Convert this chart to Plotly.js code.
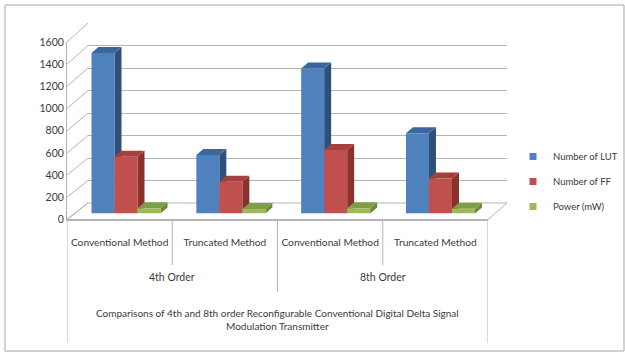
<!DOCTYPE html>
<html><head><meta charset="utf-8">
<script src="https://cdn.plot.ly/plotly-3.0.1.min.js"></script>
<style>html,body{margin:0;padding:0;background:#fff;overflow:hidden;}#chart{width:625px;height:353px;}</style>
</head><body><div id="chart"></div>
<script>
// ---------- data ----------
const methods = ["Conventional Method", "Truncated Method", "Conventional Method", "Truncated Method"];
const orders = ["4th Order", "8th Order"];
const seriesNames = ["Number of LUT", "Number of FF", "Power (mW)"];
const lutValues = [1440, 525, 1300, 720];
const ffValues = [510, 285, 570, 315];
const powerValues = [46, 40, 48, 42];
const yTickValues = [0, 200, 400, 600, 800, 1000, 1200, 1400, 1600];
const axisTitleLines = ["Comparisons of 4th and 8th order Reconfigurable Conventional Digital Delta Signal", "Modulation Transmitter"];

// ---------- geometry / style ----------
const W = 625, H = 353;
const px = X => X / W;
const py = Y => 1 - Y / H;
const FRONT = {left: 67, right: 488, y0: 219.5, yTop: 42};
const BACK = {left: 88, right: 507, y0: 203, yTop: 23};
const BAR = {left: 73.6, right: 492.9, y0: 213.5, yTop: 35.1};
const YMAX = 1600;
const DEPTH = {dx: 7, dy: 6};
const BAR_W = 23 / 104.8;
const frontColors = ["#4F81BD", "#C0504D", "#9BBB59"];
const sideColors = ["#2F5079", "#8A302D", "#6C8A3A"];
const topColors = ["#3B679E", "#A6403D", "#7D9E47"];
const gridColor = "#B4B4B4";
const textColor = "#3A3A3A";
const FONT = "Lato, 'Liberation Sans', Arial, sans-serif";

const series = [lutValues, ffValues, powerValues];
const catIdx = methods.map((_, i) => i);

const traces = [];
series.forEach((vals, k) => {
  traces.push({
    type: "bar", x: catIdx, y: vals, xaxis: "x3", yaxis: "y3",
    width: BAR_W, offset: -1.5 * BAR_W + k * BAR_W,
    marker: {color: frontColors[k], line: {width: 0}},
    name: seriesNames[k], showlegend: false, hoverinfo: "skip"
  });
});
// legend entries (small square keys)
seriesNames.forEach((n, k) => {
  traces.push({
    type: "scatter", mode: "markers", x: [null], y: [null],
    xaxis: k === 0 ? "x" : "x2", yaxis: k === 0 ? "y" : "y2",
    marker: {symbol: "square", size: 7, color: frontColors[k]},
    name: n, legendgroup: "g" + k, showlegend: true
  });
});

const shapes = [];
// outer frame
shapes.push({type: "rect", xref: "paper", yref: "paper", x0: px(5), x1: px(624), y0: py(351), y1: py(5),
  line: {color: "#A6A6A6", width: 1}, layer: "below"});
// floor
shapes.push({type: "path", xref: "paper", yref: "paper", layer: "below",
  path: `M${px(FRONT.left)},${py(FRONT.y0)} L${px(FRONT.right)},${py(FRONT.y0)} L${px(BACK.right)},${py(BACK.y0)} L${px(BACK.left)},${py(BACK.y0)} Z`,
  line: {color: gridColor, width: 1}});
// side wall diagonals
yTickValues.forEach(v => {
  const yf = FRONT.y0 - v * (FRONT.y0 - FRONT.yTop) / YMAX;
  const yb = BACK.y0 - v * (BACK.y0 - BACK.yTop) / YMAX;
  shapes.push({type: "line", xref: "paper", yref: "paper", layer: "below",
    x0: px(FRONT.left), x1: px(BACK.left), y0: py(yf), y1: py(yb),
    line: {color: gridColor, width: 1}});
});
// 3D faces of bars
const dxD = DEPTH.dx * 4 / (BAR.right - BAR.left);
const dyD = DEPTH.dy * YMAX / (BAR.y0 - BAR.yTop);
series.forEach((vals, k) => {
  vals.forEach((v, i) => {
    const xl = i - 1.5 * BAR_W + k * BAR_W;
    const xr = xl + BAR_W;
    shapes.push({type: "path", xref: "x3", yref: "y3", layer: "below",
      path: `M${xr},${v} L${xr + dxD},${v + dyD} L${xr + dxD},${dyD} L${xr},0 Z`,
      fillcolor: sideColors[k], line: {width: 0}});
    shapes.push({type: "path", xref: "x3", yref: "y3", layer: "below",
      path: `M${xl},${v} L${xr},${v} L${xr + dxD},${v + dyD} L${xl + dxD},${v + dyD} Z`,
      fillcolor: topColors[k], line: {width: 0}});
  });
});
// category table separators
const sep = (x, yEnd) => ({type: "line", xref: "x2", yref: "paper", x0: x, x1: x,
  y0: py(FRONT.y0), y1: py(yEnd), line: {color: gridColor, width: 1}});
shapes.push(sep(-0.5, 343), sep(3.5, 343), sep(0.5, 265), sep(2.5, 265), sep(1.5, 292));

const annotations = [];
orders.forEach((o, j) => {
  annotations.push({xref: "x2", yref: "paper", x: 0.5 + 2 * j, y: py(277), text: o,
    showarrow: false, xanchor: "center", yanchor: "middle", font: {family: FONT, size: 10.5, color: textColor}});
});
annotations.push({xref: "x2", yref: "paper", x: 1.5, y: py(319.5), text: axisTitleLines.join("<br>"),
  showarrow: false, xanchor: "center", yanchor: "middle", font: {family: FONT, size: 10, color: textColor}});

const layout = {
  width: W, height: H, margin: {l: 0, r: 0, t: 0, b: 0, autoexpand: false},
  paper_bgcolor: "#fff", plot_bgcolor: "rgba(0,0,0,0)",
  font: {family: FONT, size: 10.5, color: textColor},
  showlegend: true,
  legend: {x: px(513), y: py(142), xanchor: "left", yanchor: "top", bgcolor: "rgba(0,0,0,0)",
    font: {family: FONT, size: 9.5, color: textColor}, tracegroupgap: 6, traceorder: "grouped", itemwidth: 30},
  // back wall
  xaxis: {domain: [px(BACK.left), px(BACK.right)], range: [0, 1], anchor: "y", visible: false, fixedrange: true},
  yaxis: {domain: [py(BACK.y0), py(BACK.yTop)], range: [0, YMAX], anchor: "x", tickvals: yTickValues,
    showgrid: true, gridcolor: gridColor, gridwidth: 1, zeroline: false, showticklabels: false, showline: false, ticks: ""},
  // front plane (labels, table)
  xaxis2: {domain: [px(FRONT.left), px(FRONT.right)], range: [-0.5, 3.5], anchor: "y2",
    tickvals: catIdx, ticktext: methods, ticks: "", showgrid: false, zeroline: false, tickangle: 0,
    showline: true, linecolor: gridColor, linewidth: 1, ticklabelstandoff: 13,
    tickfont: {family: FONT, size: 10.2, color: textColor}},
  yaxis2: {domain: [py(FRONT.y0), py(FRONT.yTop)], range: [0, YMAX], anchor: "x2",
    tickvals: yTickValues, ticks: "", showgrid: false, zeroline: false,
    showline: true, linecolor: gridColor, linewidth: 1,
    tickfont: {family: FONT, size: 10.5, color: textColor}},
  // bars
  xaxis3: {domain: [px(BAR.left), px(BAR.right)], range: [-0.5, 3.5], anchor: "y3", type: "linear", visible: false},
  yaxis3: {domain: [py(BAR.y0), py(BAR.yTop)], range: [0, YMAX], anchor: "x3", visible: false},
  barmode: "overlay",
  shapes: shapes, annotations: annotations, hovermode: false
};

Plotly.newPlot("chart", traces, layout, {staticPlot: true, displayModeBar: false});
</script></body></html>
